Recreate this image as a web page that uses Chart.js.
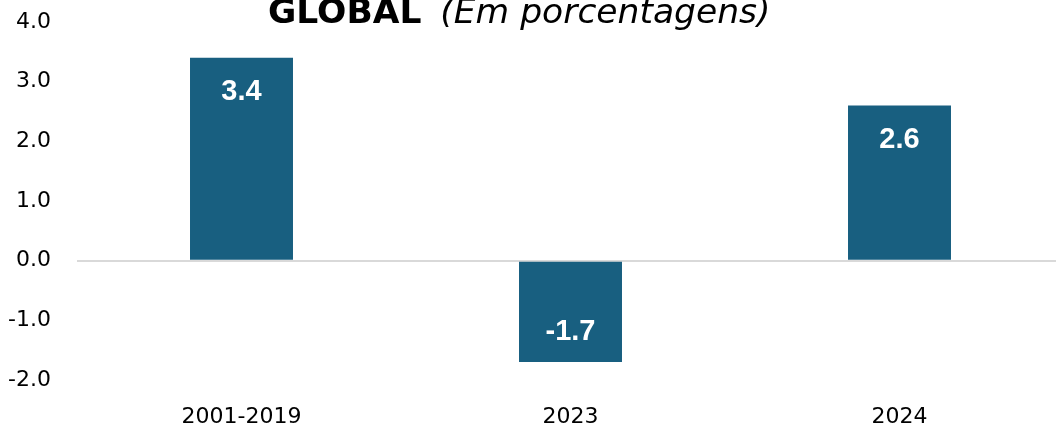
<!DOCTYPE html>
<html>
<head>
<meta charset="utf-8">
<script src="https://cdn.jsdelivr.net/npm/chart.js@4/dist/chart.umd.min.js"></script>
<style>
  html, body { margin: 0; padding: 0; background: #fff; overflow: hidden; width: 1056px; height: 429px; }
  #wrap { position: relative; width: 1056px; height: 429px; overflow: hidden; }
  #title { position: absolute; left: 268px; top: -6px; font-family: "DejaVu Sans", sans-serif; font-size: 34.5px; line-height: 34.5px; white-space: nowrap; color: #000; z-index: 2; }
  #title i { margin-left: 8px; font-weight: normal; }
  canvas { position: absolute; left: 0; top: 0; }
</style>
</head>
<body>
<div id="wrap">
  <div id="title"><b>GLOBAL</b> <i>(Em porcentagens)</i></div>
  <canvas id="c" width="1064" height="429"></canvas>
</div>
<script>
const categories = ["2001-2019", "2023", "2024"];
const values = [3.4, -1.7, 2.6];
const yTicks = [-2, -1, 0, 1, 2, 3, 4];

const barLabels = {
  id: 'barLabels',
  afterDatasetsDraw(chart) {
    const ctx = chart.ctx;
    const meta = chart.getDatasetMeta(0);
    ctx.save();
    ctx.fillStyle = '#ffffff';
    ctx.font = 'bold 29px "Liberation Sans", Arial, sans-serif';
    ctx.textAlign = 'center';
    ctx.textBaseline = 'middle';
    meta.data.forEach((bar, i) => {
      const v = values[i];
      const y = v >= 0 ? bar.y + 34 : bar.y - 30;
      ctx.fillText(v.toFixed(1), bar.x, y);
    });
    ctx.restore();
  }
};

new Chart(document.getElementById('c'), {
  type: 'bar',
  data: {
    labels: categories,
    datasets: [{
      data: values,
      backgroundColor: '#185F80',
      borderWidth: 0,
      categoryPercentage: 1,
      barPercentage: 0.313
    }]
  },
  options: {
    responsive: false,
    animation: false,
    devicePixelRatio: 1,
    layout: { padding: { top: 22, bottom: 0, left: 7, right: 0 } },
    plugins: { legend: { display: false }, tooltip: { enabled: false }, title: { display: false } },
    scales: {
      x: {
        grid: { display: false, drawTicks: false },
        border: { display: false },
        afterFit(axis) { axis.height = 49; axis.paddingLeft = 0; axis.paddingRight = 0; },
        ticks: { color: '#000', padding: 24, font: { family: '"DejaVu Sans", sans-serif', size: 22 } }
      },
      y: {
        min: -2, max: 4,
        afterBuildTicks(axis) { axis.ticks = yTicks.map(v => ({ value: v })); },
        afterFit(axis) { axis.width = 70; axis.paddingTop = 0; axis.paddingBottom = 0; },
        grid: {
          drawTicks: false,
          lineWidth: 2,
          color: (c) => (c.tick && c.tick.value === 0) ? '#d9d9d9' : 'rgba(0,0,0,0)'
        },
        border: { display: false },
        ticks: {
          color: '#000', padding: 26,
          font: { family: '"DejaVu Sans", sans-serif', size: 22 },
          callback: (v) => Number(v).toFixed(1)
        }
      }
    }
  },
  plugins: [barLabels]
});
</script>
</body>
</html>
